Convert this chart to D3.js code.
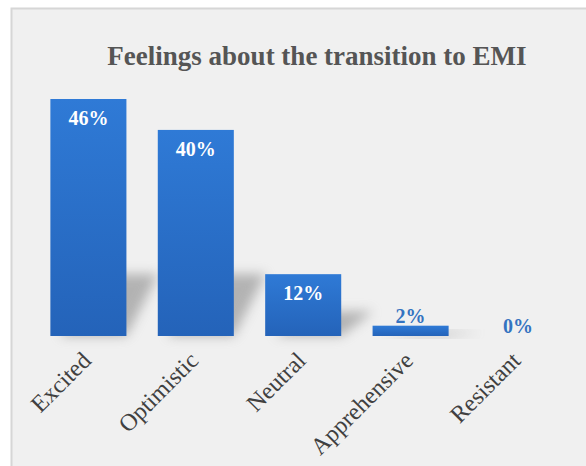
<!DOCTYPE html>
<html>
<head>
<meta charset="utf-8">
<script src="https://cdn.jsdelivr.net/npm/d3@7"></script>
<style>
  html, body { margin: 0; padding: 0; background: #ffffff; }
  svg { display: block; }
</style>
</head>
<body>
<svg id="viz" width="586" height="466"></svg>
<script>
// chart data
var categories = ["Excited", "Optimistic", "Neutral", "Apprehensive", "Resistant"];
var percents = [46, 40, 12, 2, 0];
var chartTitle = "Feelings about the transition to EMI";

var svg = d3.select('svg#viz');
var base = 336;

// panel background
svg.append('rect')
    .attr('x', 11.5).attr('y', 8.5)
    .attr('width', 600).attr('height', 500)
    .attr('fill', '#f0f0f0')
    .attr('stroke', '#d6d6d6')
    .attr('stroke-width', 2);

var defs = svg.append('defs');
var grad = defs.append('linearGradient')
    .attr('id', 'barGrad').attr('x1', 0).attr('y1', 0).attr('x2', 0).attr('y2', 1);
grad.append('stop').attr('offset', '0%').attr('stop-color', '#2f7ad6');
grad.append('stop').attr('offset', '100%').attr('stop-color', '#2463b9');

defs.append('filter').attr('id', 'blur')
    .attr('x', '-50%').attr('y', '-50%').attr('width', '200%').attr('height', '200%')
    .append('feGaussianBlur').attr('stdDeviation', 6);

var x = d3.scaleBand()
    .domain(categories)
    .range([34.7, 571.7])
    .paddingInner(0.292)
    .paddingOuter(0.146);

var y = d3.scaleLinear()
    .domain([0, 46])
    .range([base, 99]);

// title
svg.append('text')
    .attr('x', 317)
    .attr('y', 65)
    .attr('text-anchor', 'middle')
    .attr('font-family', '"Liberation Serif", "Times New Roman", serif')
    .attr('font-weight', 'bold')
    .attr('font-size', 27)
    .attr('fill', '#555555')
    .text(chartTitle);

var data = categories.map(function(c, i) { return { cat: c, val: percents[i] }; });

// soft shadows behind bars
svg.append('g').selectAll('path').data(data.filter(function(d) { return d.val > 0; }))
    .enter().append('path')
    .attr('filter', 'url(#blur)')
    .attr('fill', '#8a8a8a')
    .attr('opacity', 0.6)
    .attr('d', function(d) {
        var x0 = x(d.cat), x1 = x0 + x.bandwidth();
        var h = Math.min((base - y(d.val)) * 0.4, 62);
        return 'M' + (x0 + 10) + ',' + base +
            'L' + x1 + ',' + base +
            'L' + (x1 + 32) + ',' + (base - h) +
            'L' + (x0 + 40) + ',' + (base - h) + 'Z';
    });

// bars
svg.append('g').selectAll('rect').data(data)
    .enter().append('rect')
    .attr('x', function(d) { return x(d.cat); })
    .attr('y', function(d) { return y(d.val); })
    .attr('width', x.bandwidth())
    .attr('height', function(d) { return base - y(d.val); })
    .attr('fill', 'url(#barGrad)');

// value labels
svg.append('g').selectAll('text').data(data)
    .enter().append('text')
    .attr('x', function(d) { return x(d.cat) + x.bandwidth() / 2; })
    .attr('y', function(d) {
        return d.val >= 10 ? y(d.val) + 26 : y(d.val) - 3;
    })
    .attr('text-anchor', 'middle')
    .attr('font-family', '"Liberation Serif", "Times New Roman", serif')
    .attr('font-weight', 'bold')
    .attr('font-size', 20)
    .attr('fill', function(d) { return d.val >= 10 ? '#ffffff' : '#3473c0'; })
    .text(function(d) { return d.val + '%'; });

// category labels
svg.append('g').selectAll('text').data(data)
    .enter().append('text')
    .attr('transform', function(d) {
        var cx = x(d.cat) + x.bandwidth() / 2 + 4;
        return 'translate(' + cx + ',' + (base + 26) + ') rotate(-45)';
    })
    .attr('text-anchor', 'end')
    .attr('font-family', '"Liberation Serif", "Times New Roman", serif')
    .attr('font-size', 24)
    .attr('fill', '#404040')
    .text(function(d) { return d.cat; });
</script>
</body>
</html>
